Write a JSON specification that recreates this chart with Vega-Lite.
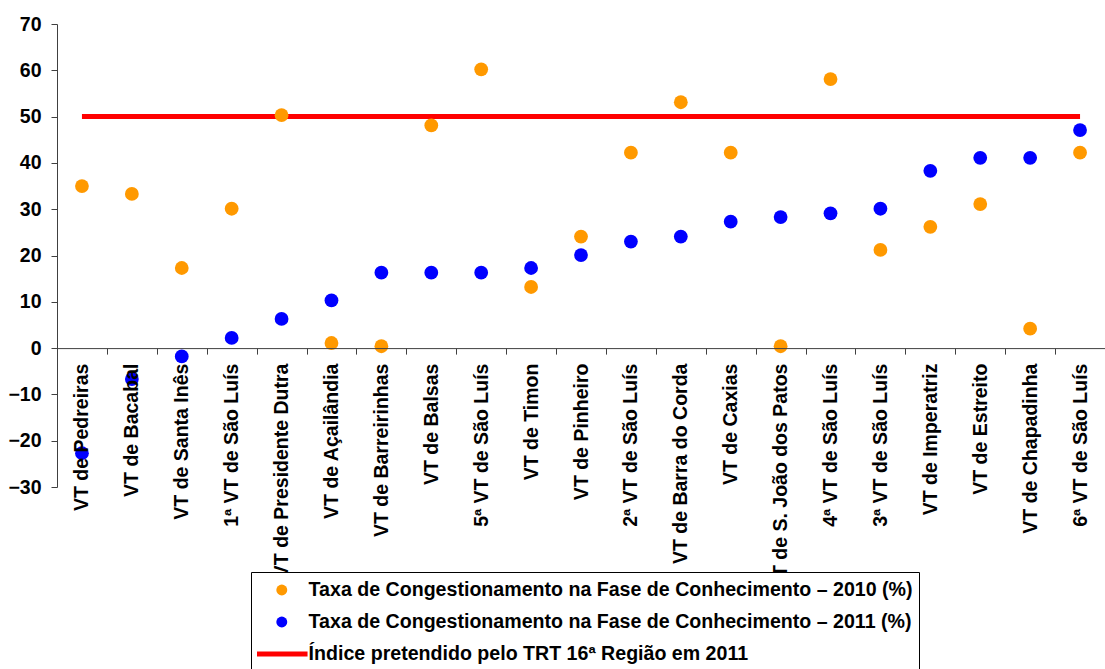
{
  "$schema": "https://vega.github.io/schema/vega-lite/v6.json",
  "width": 1048,
  "height": 463,
  "autosize": {"type": "none"},
  "padding": {"left": 57, "top": 24, "right": 0, "bottom": 182},
  "config": {"view": {"stroke": null}, "font": "Liberation Sans"},
  "data": {"values": [
    {"vt": "VT de Pedreiras", "y2010": 35.0, "y2011": -22.7, "meta": 50},
    {"vt": "VT de Bacabal", "y2010": 33.3, "y2011": -6.7, "meta": 50},
    {"vt": "VT de Santa Inês", "y2010": 17.3, "y2011": -1.8, "meta": 50},
    {"vt": "1ª VT de São Luís", "y2010": 30.1, "y2011": 2.2, "meta": 50},
    {"vt": "VT de Presidente Dutra", "y2010": 50.3, "y2011": 6.3, "meta": 50},
    {"vt": "VT de Açailândia", "y2010": 1.1, "y2011": 10.3, "meta": 50},
    {"vt": "VT de Barreirinhas", "y2010": 0.4, "y2011": 16.3, "meta": 50},
    {"vt": "VT de Balsas", "y2010": 48.1, "y2011": 16.3, "meta": 50},
    {"vt": "5ª VT de São Luís", "y2010": 60.2, "y2011": 16.3, "meta": 50},
    {"vt": "VT de Timon", "y2010": 13.2, "y2011": 17.3, "meta": 50},
    {"vt": "VT de Pinheiro", "y2010": 24.1, "y2011": 20.1, "meta": 50},
    {"vt": "2ª VT de São Luís", "y2010": 42.2, "y2011": 23.0, "meta": 50},
    {"vt": "VT de Barra do Corda", "y2010": 53.1, "y2011": 24.1, "meta": 50},
    {"vt": "VT de Caxias", "y2010": 42.2, "y2011": 27.3, "meta": 50},
    {"vt": "VT de S. João dos Patos", "y2010": 0.4, "y2011": 28.3, "meta": 50},
    {"vt": "4ª VT de São Luís", "y2010": 58.1, "y2011": 29.1, "meta": 50},
    {"vt": "3ª VT de São Luís", "y2010": 21.2, "y2011": 30.1, "meta": 50},
    {"vt": "VT de Imperatriz", "y2010": 26.2, "y2011": 38.3, "meta": 50},
    {"vt": "VT de Estreito", "y2010": 31.1, "y2011": 41.1, "meta": 50},
    {"vt": "VT de Chapadinha", "y2010": 4.2, "y2011": 41.1, "meta": 50},
    {"vt": "6ª VT de São Luís", "y2010": 42.2, "y2011": 47.1, "meta": 50}
  ]},
  "encoding": {
    "x": {
      "field": "vt", "type": "nominal", "sort": null,
      "scale": {"type": "band", "paddingInner": 0, "paddingOuter": 0},
      "axis": {
        "title": null, "orient": "bottom", "offset": -138.9,
        "labelAngle": 270, "labelFontSize": 19.5, "labelFontWeight": "bold",
        "labelColor": "black", "labelPadding": 9, "tickSize": 6,
        "tickBand": "extent", "labelLimit": 400, "zindex": 1,
        "domainColor": "#404040", "tickColor": "#404040", "grid": false
      }
    }
  },
  "layer": [
    {
      "mark": {"type": "line", "strokeWidth": 5, "color": "#FF0000"},
      "encoding": {
        "y": {"field": "meta", "type": "quantitative"}
      }
    },
    {
      "transform": [{"fold": ["y2010", "y2011"], "as": ["serie", "valor"]}],
      "mark": {"type": "point", "filled": true, "opacity": 1, "size": 190},
      "encoding": {
        "y": {
          "field": "valor", "type": "quantitative",
          "scale": {"domain": [-30, 70], "nice": false},
          "axis": {
            "title": null, "values": [-30, -20, -10, 0, 10, 20, 30, 40, 50, 60, 70],
            "labelFontSize": 19.5, "labelFontWeight": "bold", "labelColor": "black",
            "labelPadding": 10, "tickSize": 6, "grid": false,
            "domainColor": "#404040", "tickColor": "#404040"
          }
        },
        "shape": {
          "field": "serie", "type": "nominal",
          "scale": {"domain": ["y2010", "y2011", "meta"], "range": ["circle", "circle", "M-4.7,-0.47H4.7V0.47H-4.7Z"]},
          "legend": {
            "orient": "none", "legendX": 194, "legendY": 548,
            "title": null, "symbolSize": 120,
            "clipHeight": 24, "rowPadding": 8, "padding": 6, "labelOffset": 17, "symbolOffset": 15,
            "labelFont": "Liberation Sans", "labelFontSize": 19.6, "labelFontWeight": "bold",
            "labelColor": "black", "labelLimit": 900,
            "strokeColor": "black", "fillColor": "white", "zindex": 2,
            "labelExpr": "datum.value == 'y2010' ? 'Taxa de Congestionamento na Fase de Conhecimento – 2010 (%)' : datum.value == 'y2011' ? 'Taxa de Congestionamento na Fase de Conhecimento – 2011 (%)' : 'Índice pretendido pelo TRT 16ª Região em 2011'"
          }
        },
        "color": {
          "field": "serie", "type": "nominal",
          "scale": {"domain": ["y2010", "y2011", "meta"], "range": ["#FF9900", "#0000FF", "#FF0000"]},
          "legend": {
            "orient": "none", "legendX": 194, "legendY": 548,
            "title": null, "symbolSize": 120,
            "clipHeight": 24, "rowPadding": 8, "padding": 6, "labelOffset": 17, "symbolOffset": 15,
            "labelFont": "Liberation Sans", "labelFontSize": 19.6, "labelFontWeight": "bold",
            "labelColor": "black", "labelLimit": 900,
            "strokeColor": "black", "fillColor": "white", "zindex": 2,
            "labelExpr": "datum.value == 'y2010' ? 'Taxa de Congestionamento na Fase de Conhecimento – 2010 (%)' : datum.value == 'y2011' ? 'Taxa de Congestionamento na Fase de Conhecimento – 2011 (%)' : 'Índice pretendido pelo TRT 16ª Região em 2011'"
          }
        }
      }
    }
  ]
}
